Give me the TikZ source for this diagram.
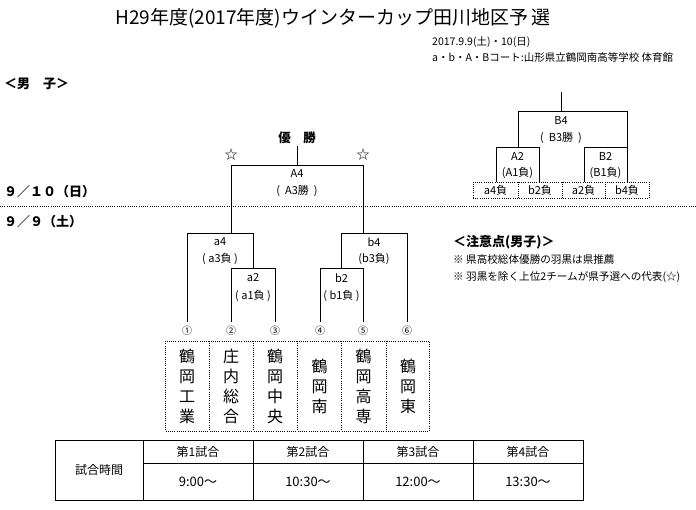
\documentclass[tikz,border=0pt]{standalone}
\usepackage{fontspec}
\setmainfont{Noto Sans CJK JP}
\begin{document}
\begin{tikzpicture}[x=1pt,y=-1pt,
  br/.style={draw=black,line width=0.8pt},
  dotln/.style={draw=black,line width=0.8pt,dash pattern=on 1pt off 1.2pt},
  lbl/.style={inner sep=0pt,font=\fontsize{11}{13}\selectfont},
  num/.style={inner sep=0pt,font=\fontsize{10}{12}\selectfont},
  team/.style={inner sep=0pt,align=center,font=\fontsize{16}{20}\selectfont},
  note/.style={inner sep=0pt,anchor=west,font=\fontsize{10.6}{12}\selectfont},
  head/.style={inner sep=0pt,font=\fontsize{13}{15}\selectfont\bfseries},
  cell/.style={inner sep=0pt,font=\fontsize{12}{14}\selectfont},
  tim/.style={inner sep=0pt,font=\fontsize{13}{15}\selectfont}]
\useasboundingbox (0,0) rectangle (696,510);

% title and header
\node[inner sep=0pt,font=\fontsize{19}{21}\selectfont] (title) at (333,18) {H29年度(2017年度)ウインターカップ田川地区予\,選};
\node[note,font=\fontsize{10.5}{12}\selectfont] (date) at (432,42) {2017.9.9(土)・10(日)};
\node[note,font=\fontsize{10.5}{12}\selectfont] (court) at (432,58) {a・b・A・Bコート:山形県立鶴岡南高等学校 体育館};
\node[head,anchor=west] (men) at (4,84) {＜男　子＞};
\node[head,anchor=west] (day2) at (4,192) {９／１０（日）};
\node[head,anchor=west] (day1) at (4,222) {９／９（土）};

% day separator
\coordinate (sepL) at (0,206);
\coordinate (sepR) at (696,206);
\draw[dotln] (sepL) -- (sepR);

% ---------- main bracket ----------
\coordinate (t1) at (187,322);
\coordinate (t2) at (231,322);
\coordinate (t3) at (275,322);
\coordinate (t4) at (320,322);
\coordinate (t5) at (363,322);
\coordinate (t6) at (407,322);
\coordinate (a2l) at (231,268);
\coordinate (a2r) at (275,268);
\coordinate (a2m) at (253,268);
\coordinate (a4l) at (187,233);
\coordinate (a4r) at (253,233);
\coordinate (a4m) at (231,233);
\coordinate (b2l) at (320,268);
\coordinate (b2r) at (363,268);
\coordinate (b2m) at (341.5,268);
\coordinate (b4l) at (341.5,233);
\coordinate (b4r) at (407,233);
\coordinate (b4m) at (363,233);
\coordinate (A4l) at (231,165);
\coordinate (A4r) at (363,165);
\coordinate (A4m) at (297,165);

\draw[br] (t2) -- (a2l) -- (a2r) -- (t3);
\draw[br] (t1) -- (a4l) -- (a4r) -- (a2m);
\draw[br] (t4) -- (b2l) -- (b2r) -- (t5);
\draw[br] (b2m) -- (b4l) -- (b4r) -- (t6);
\draw[br] (a4m) -- (A4l) -- (A4r) -- (b4m);

\node[head,font=\fontsize{12.5}{14}\selectfont\bfseries] (champ) at (297,138) {優　勝};
\coordinate (champB) at (297,146);
\draw[br] (champB) -- (A4m);
\node[inner sep=0pt,font=\fontsize{13}{15}\selectfont] (starL) at (231,155) {☆};
\node[inner sep=0pt,font=\fontsize{13}{15}\selectfont] (starR) at (363,155) {☆};

\node[lbl] (A4) at (297,173) {A4};
\node[lbl] (A4s) at (297,191) {(\ \ A3勝\ \ )};
\node[lbl] (a4) at (220,242) {a4};
\node[lbl] (a4s) at (220,259) {(\ a3負\ )};
\node[lbl] (a2) at (253,278) {a2};
\node[lbl] (a2s) at (253,296) {(\ a1負\ )};
\node[lbl] (b4) at (374,242) {b4};
\node[lbl] (b4s) at (374,259) {(b3負)};
\node[lbl] (b2) at (341.5,278) {b2};
\node[lbl] (b2s) at (341.5,296) {(\ b1負\ )};

\node[num] (n1) at (187,331) {①};
\node[num] (n2) at (231,331) {②};
\node[num] (n3) at (275,331) {③};
\node[num] (n4) at (320,331) {④};
\node[num] (n5) at (363,331) {⑤};
\node[num] (n6) at (407,331) {⑥};

% team box
\node[dotln,minimum width=264pt,minimum height=90pt,inner sep=0pt] (teams) at (297.5,386) {};
\foreach \x/\n in {209/d1,253/d2,297.5/d3,341.5/d4,386/d5}{
  \coordinate (\n t) at (\x,341);
  \coordinate (\n b) at (\x,431);
  \draw[dotln] (\n t) -- (\n b);
}
\node[team] (tm1) at (187,386) {鶴\\岡\\工\\業};
\node[team] (tm2) at (231,386) {庄\\内\\総\\合};
\node[team] (tm3) at (275,386) {鶴\\岡\\中\\央};
\node[team] (tm4) at (319.5,386) {鶴\\岡\\南};
\node[team] (tm5) at (363.5,386) {鶴\\岡\\高\\専};
\node[team] (tm6) at (408,386) {鶴\\岡\\東};

% ---------- right bracket ----------
\coordinate (Btop) at (561,92);
\coordinate (B4m) at (561,111);
\coordinate (B4l) at (518,111);
\coordinate (B4r) at (627,111);
\coordinate (A2m) at (518,147);
\coordinate (A2l) at (496,147);
\coordinate (A2r) at (539,147);
\coordinate (B2l) at (584,147);
\coordinate (B2r) at (627,147);
\coordinate (A2lb) at (496,182);
\coordinate (A2rb) at (539,182);
\coordinate (B2lb) at (584,182);
\coordinate (B2rb) at (627,182);
\draw[br] (Btop) -- (B4m);
\draw[br] (A2m) -- (B4l) -- (B4r) -- (B2rb);
\draw[br] (A2lb) -- (A2l) -- (A2r) -- (A2rb);
\draw[br] (B2lb) -- (B2l) -- (B2r);

\node[lbl] (B4) at (561,120) {B4};
\node[lbl] (B4s) at (561,138) {(\ \ B3勝\ \ )};
\node[lbl] (A2) at (517.5,156) {A2};
\node[lbl] (A2s) at (517.5,173) {(A1負)};
\node[lbl] (B2) at (605.5,156) {B2};
\node[lbl] (B2s) at (605.5,173) {(B1負)};

\node[dotln,minimum width=176pt,minimum height=16pt,inner sep=0pt] (losers) at (561,190) {};
\foreach \x/\n in {518/e1,562/e2,605/e3}{
  \coordinate (\n t) at (\x,182);
  \coordinate (\n b) at (\x,198);
  \draw[dotln] (\n t) -- (\n b);
}
\node[lbl] (l1) at (495.5,190) {a4負};
\node[lbl] (l2) at (540,190) {b2負};
\node[lbl] (l3) at (583.5,190) {a2負};
\node[lbl] (l4) at (627,190) {b4負};

% notes
\node[note,font=\fontsize{13}{15}\selectfont\bfseries] (nt) at (453,242) {＜注意点(男子)＞};
\node[note] (nt1) at (453,259) {※ 県高校総体優勝の羽黒は県推薦};
\node[note] (nt2) at (453,277) {※ 羽黒を除く上位2チームが県予選への代表(☆)};

% time table
\node[br,minimum width=528pt,minimum height=60pt,inner sep=0pt] (tbl) at (319,470) {};
\foreach \x/\n in {143/v1,253/v2,363/v3,473/v4}{
  \coordinate (\n t) at (\x,440);
  \coordinate (\n b) at (\x,500);
  \draw[br] (\n t) -- (\n b);
}
\coordinate (hl) at (143,463);
\coordinate (hr) at (583,463);
\draw[br] (hl) -- (hr);
\node[cell] (th) at (99,470) {試合時間};
\node[cell] (g1) at (198,452) {第1試合};
\node[cell] (g2) at (308,452) {第2試合};
\node[cell] (g3) at (418,452) {第3試合};
\node[cell] (g4) at (528,452) {第4試合};
\node[tim] (s1) at (198,482) {9:00～};
\node[tim] (s2) at (308,482) {10:30～};
\node[tim] (s3) at (418,482) {12:00～};
\node[tim] (s4) at (528,482) {13:30～};
\end{tikzpicture}
\end{document}
